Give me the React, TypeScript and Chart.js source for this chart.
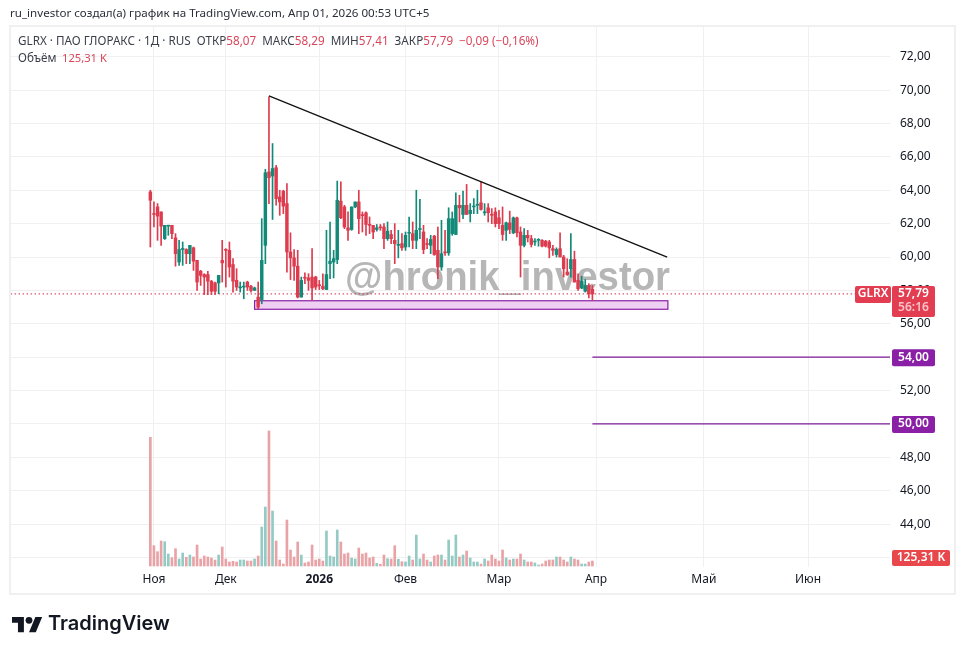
import React, { useEffect, useRef } from "react";
import { Chart, registerables } from "chart.js";

Chart.register(...registerables);

const opens = [63.9,62.6,63.0,62.7,61.1,61.85,61.9,61.15,59.7,60.45,60.45,60.2,60.55,59.8,59.15,58.95,58.95,58.55,58.45,58.45,
59.8,60.45,60.4,59.55,58.6,58.15,58.2,58.5,58.25,58.0,
57.6,57.45,60.7,65.1,64.85,65.35,63.6,63.95,63.2,60.3,
59.95,59.45,57.6,58.77,58.75,58.8,58.8,58.32,58.25,58.05,
59.6,59.7,59.85,63.35,63.0,61.75,61.65,63.0,63.3,62.52,
62.65,61.95,61.9,61.65,61.8,61.8,61.1,61.35,61.0,60.7,
60.8,60.6,61.42,61.4,61.0,61.65,61.5,60.8,60.7,61.25,
60.4,59.4,60.3,60.25,61.4,61.35,63.1,62.55,63.1,62.6,
63.0,63.1,63.25,62.65,62.95,62.55,62.7,62.35,61.9,61.6,
62.05,61.45,62.35,61.5,60.7,61.3,61.1,60.9,61.0,61.0,
60.95,60.9,60.5,60.15,60.5,60.0,59.1,59.3,59.85,58.6,
58.15,57.95,58.3,58.07];
const closes = [63.4,62.55,62.45,61.85,61.9,61.9,61.4,60.2,60.45,60.45,60.2,60.7,59.75,58.5,58.9,58.8,58.55,57.95,57.95,58.9,
59.65,60.4,59.4,58.55,58.2,58.2,58.25,58.2,58.0,58.15,
57.0,59.8,65.05,64.75,65.3,63.5,63.3,63.05,60.3,59.95,
59.45,57.6,58.6,58.73,58.6,58.15,58.2,58.28,58.1,58.95,
59.75,59.9,63.4,62.35,61.8,61.6,63.0,63.3,62.3,62.48,
61.95,61.9,61.5,61.75,61.75,61.1,61.55,61.1,60.8,60.75,
60.55,61.3,61.45,61.0,61.6,61.7,60.45,60.75,61.05,60.15,
59.4,60.2,60.25,62.3,62.3,63.1,62.95,63.1,62.55,62.8,
63.05,63.15,62.85,62.7,62.65,62.5,62.0,62.0,61.35,62.05,
61.65,62.35,61.45,60.7,61.3,61.15,60.75,60.95,61.02,60.65,
60.65,60.55,60.4,60.45,60.0,59.3,58.95,59.85,58.5,58.1,
58.55,58.3,57.8,57.79];
const highs = [64.0,63.3,63.2,62.7,61.9,61.9,61.9,61.4,61.0,60.9,60.5,60.7,60.6,59.8,59.2,59.0,59.15,58.6,58.5,58.9,
61.0,60.5,60.9,59.9,59.3,58.5,58.5,58.55,58.3,58.2,
58.5,62.3,65.25,69.6,66.8,65.5,64.0,64.0,64.4,61.45,
60.45,60.4,58.8,59.05,59.0,60.5,58.85,58.6,59.0,61.6,
62.1,60.4,64.55,64.5,63.1,62.7,63.0,63.3,64.0,62.7,
62.7,62.4,61.9,61.95,61.95,62.0,62.1,61.6,62.0,61.6,
61.4,61.5,62.4,62.1,64.0,63.45,61.9,61.1,61.3,61.3,
61.8,62.2,61.6,62.95,62.7,63.85,63.7,63.95,64.35,63.2,
63.5,64.0,64.5,63.2,63.2,62.9,62.95,62.8,63.0,62.1,
62.75,62.4,62.4,61.8,61.7,61.6,61.3,61.1,61.1,61.05,
61.0,61.0,60.7,60.55,61.45,60.1,59.9,61.4,60.35,59.0,
58.85,58.65,58.4,58.29];
const lows = [60.6,61.8,61.0,60.7,61.05,61.3,61.1,59.45,59.5,59.5,59.6,59.6,59.2,58.0,58.3,57.75,57.75,57.75,57.75,57.8,
58.5,58.2,58.8,57.9,58.0,57.9,57.5,58.0,57.9,58.0,
56.9,57.2,59.6,63.2,62.25,63.1,62.5,62.6,59.1,58.65,
58.6,57.55,57.6,58.4,58.0,57.4,58.05,58.05,58.05,58.05,
58.7,58.75,59.6,62.3,61.7,61.0,61.6,62.95,61.4,61.5,
61.3,61.4,61.1,61.55,61.6,60.5,61.0,60.8,59.6,59.95,
60.4,60.4,60.6,60.5,60.5,61.1,60.2,60.5,60.2,60.1,
58.7,59.2,60.1,60.1,61.3,61.35,62.1,62.3,62.55,62.1,
62.6,62.6,62.8,62.5,62.1,62.0,61.8,61.7,61.0,61.0,
61.4,61.4,61.2,58.8,60.6,60.9,60.6,60.7,60.65,60.6,
60.6,59.95,60.1,60.0,60.0,58.8,58.9,58.8,58.5,58.0,
58.1,57.9,57.55,57.41];
const volumes = [3216,508,358,625,608,300,208,433,175,325,217,275,225,525,175,250,225,200,150,275,
475,175,100,117,100,150,150,125,125,175,
250,975,1475,3375,1375,625,150,50,1150,400,
225,600,275,75,100,525,150,175,125,875,
250,225,900,600,300,325,200,175,450,300,
325,200,225,67,42,275,183,175,508,167,
108,100,250,150,775,175,300,150,100,250,
275,275,150,650,250,775,225,275,375,200,
100,100,50,175,125,275,175,125,400,200,
150,175,175,300,150,100,100,75,25,50,
125,150,150,225,225,150,100,225,175,150,
50,50,100,125];

const monthPositions = [1, 21, 47, 71, 97, 124, 154, 183];
const monthLabels = ["Ноя", "Дек", "2026", "Фев", "Мар", "Апр", "Май", "Июн"];
const priceTicks = [42,44,46,48,50,52,54,56,58,60,62,64,66,68,70,72];

const trendX = [33, 143.8];
const trendY = [69.65, 60.0];
const zoneX = [29, 144];
const zoneY = [56.87, 57.38];
const levels = [54, 50];
const levelStart = 123;
const lastClose = 57.79;

const headerText = "ru_investor создал(а) график на TradingView.com, Апр 01, 2026 00:53 UTC+5";
const legendRuns: [string, boolean][] = [
  ["GLRX · ПАО ГЛОРАКС · 1Д · RUS", false],
  ["ОТКР", false], ["58,07", true],
  ["МАКС", false], ["58,29", true],
  ["МИН", false], ["57,41", true],
  ["ЗАКР", false], ["57,79", true],
  ["−0,09 (−0,16%)", true],
];
const legendGaps = [6, 0, 6, 0, 6, 0, 6, 0, 6, 0];
const watermark = "@hronik_investor";
const symbol = "GLRX";
const priceTag = "57,79";
const countdown = "56:16";
const levelTags = ["54,00", "50,00"];
const volumeTag = "125,31 K";
const volumeLegend = "125,31 K";

const RED = "#dd3b4e";
const GREEN = "#128a78";
const VOL_RED = "#e9a3a6";
const VOL_GREEN = "#93cbc4";
const PURPLE = "#8a20a6";
const FONT = '"Noto Sans", sans-serif';

const fmt = (v: number) => v.toFixed(2).replace(".", ",");

const overlay = {
  id: "overlay",
  beforeDatasetsDraw(chart: any) {
    const { ctx, scales } = chart;
    const x0 = scales.x.getPixelForValue(zoneX[0]);
    const x1 = scales.x.getPixelForValue(zoneX[1]);
    const y0 = scales.y.getPixelForValue(zoneY[1]);
    const y1 = scales.y.getPixelForValue(zoneY[0]);
    ctx.save();
    ctx.fillStyle = "#efd0f3";
    ctx.strokeStyle = PURPLE;
    ctx.lineWidth = 1.2;
    ctx.fillRect(x0, y0, x1 - x0, y1 - y0);
    ctx.strokeRect(x0, y0, x1 - x0, y1 - y0);
    // watermark, under the marks
    ctx.fillStyle = "#b6b6b6";
    ctx.font = 'bold 40px "Liberation Sans", sans-serif';
    ctx.textBaseline = "alphabetic";
    ctx.textAlign = "left";
    ctx.fillText(watermark, 345, 289.5, 325);
    ctx.restore();
  },
  afterDraw(chart: any) {
    const { ctx, scales } = chart;
    ctx.save();
    // chart frame
    ctx.strokeStyle = "#f0f0f0";
    ctx.lineWidth = 2;
    ctx.strokeRect(10, 26, 945, 568);

    ctx.textBaseline = "middle";
    ctx.textAlign = "left";

    // header
    ctx.fillStyle = "#2a2e39";
    ctx.font = `11.6px ${FONT}`;
    ctx.fillText(headerText, 10, 14);

    // legend
    let x = 18;
    ctx.font = `11.7px ${FONT}`;
    legendRuns.forEach(([t, red], i) => {
      ctx.fillStyle = red ? "#d9455a" : "#3a3e49";
      ctx.fillText(t, x, 42);
      x += ctx.measureText(t).width + legendGaps[i];
    });
    ctx.fillStyle = "#3a3e49";
    ctx.fillText("Объём", 18, 59);
    ctx.fillStyle = "#d9455a";
    ctx.font = `11.2px ${FONT}`;
    ctx.fillText(volumeLegend, 62, 59);

    // right tags
    const tag = (l: number, t: number, w: number, h: number, c: string) => {
      ctx.fillStyle = c;
      ctx.beginPath();
      ctx.roundRect(l, t, w, h, 2);
      ctx.fill();
    };
    ctx.font = `600 12px ${FONT}`;
    ctx.textAlign = "center";
    const yClose = scales.y.getPixelForValue(lastClose);
    tag(855, yClose - 8, 36, 17, "#e23d50");
    ctx.fillStyle = "#fff";
    ctx.fillText(symbol, 873, yClose);
    tag(892, yClose - 8, 43, 31, "#e23d50");
    ctx.fillStyle = "#fff";
    ctx.fillText(priceTag, 913.5, yClose);
    ctx.fillStyle = "#f8c3c9";
    ctx.fillText(countdown, 913.5, yClose + 13.5);
    levels.forEach((lv, i) => {
      const yl = scales.y.getPixelForValue(lv);
      tag(892, yl - 8, 43, 17, PURPLE);
      ctx.fillStyle = "#fff";
      ctx.fillText(levelTags[i], 913.5, yl);
    });
    tag(892, 550, 58, 16, "#e8484c");
    ctx.fillStyle = "#fff";
    ctx.fillText(volumeTag, 921, 558);

    // logo
    ctx.fillStyle = "#131722";
    ctx.translate(12, 613.5);
    ctx.scale(0.85, 0.85);
    ctx.fill(new Path2D("M14 22H7V11H0V4h14v18zM28 22h-8l7.5-18h8L28 22z"));
    ctx.beginPath();
    ctx.arc(20, 8, 4, 0, Math.PI * 2);
    ctx.fill();
    ctx.setTransform(1, 0, 0, 1, 0, 0);
    ctx.textAlign = "left";
    ctx.font = '600 20px Inter, sans-serif';
    ctx.fillText("TradingView", 48, 624);
    ctx.restore();
  },
};

export default function App() {
  const ref = useRef<HTMLCanvasElement | null>(null);
  useEffect(() => {
    if (!ref.current) return;
    const idx = opens.map((_, i) => i);
    const up = (i: number) => closes[i] >= opens[i];
    const chart = new Chart(ref.current, {
      type: "bar",
      data: {
        datasets: [
          {
            type: "line", data: [{ x: trendX[0], y: trendY[0] }, { x: trendX[1], y: trendY[1] }],
            borderColor: "#111", borderWidth: 1.3, pointRadius: 0, order: 0, yAxisID: "y",
          },
          ...levels.map((lv) => ({
            type: "line", data: [{ x: levelStart, y: lv }, { x: 206, y: lv }],
            borderColor: "#7d1a96", borderWidth: 1.2, pointRadius: 0, order: 1, yAxisID: "y",
          })),
          {
            type: "line", data: [{ x: -40, y: lastClose }, { x: 206, y: lastClose }],
            borderColor: "#c9304a", borderWidth: 1, borderDash: [1.5, 2.5], pointRadius: 0, order: 5, yAxisID: "y",
          },
          {
            type: "bar", data: idx.map((i) => ({ x: i, y: [opens[i], closes[i]] })),
            backgroundColor: idx.map((i) => (up(i) ? GREEN : RED)),
            barThickness: 2.8, minBarLength: 1, grouped: false, order: 2, yAxisID: "y",
          },
          {
            type: "bar", data: idx.map((i) => ({ x: i, y: [lows[i], highs[i]] })),
            backgroundColor: idx.map((i) => (up(i) ? GREEN : RED)),
            barThickness: 1, grouped: false, order: 3, yAxisID: "y",
          },
          {
            type: "bar", data: idx.map((i) => ({ x: i, y: volumes[i] })),
            backgroundColor: idx.map((i) => (up(i) ? VOL_GREEN : VOL_RED)),
            barThickness: 2, grouped: false, order: 4, yAxisID: "y2",
          },
        ] as any,
      },
      options: {
        responsive: false,
        animation: false,
        layout: { padding: { left: 10, top: 26, right: 10, bottom: 60 } },
        plugins: { legend: { display: false }, tooltip: { enabled: false }, title: { display: false } },
        scales: {
          x: {
            type: "linear", min: -39.05, max: 205.8, offset: false,
            grid: { color: "#f0f0f0", drawTicks: false, drawOnChartArea: true, offset: false },
            border: { display: false },
            afterFit: (a: any) => { a.height = 27; },
            afterBuildTicks: (a: any) => { a.ticks = monthPositions.map((value) => ({ value })); },
            ticks: {
              autoSkip: false, maxRotation: 0, padding: 5, color: "#131722",
              font: (c: any) => ({
                family: FONT, size: 12,
                weight: monthPositions[c.index] === 47 ? "bold" : "normal",
              }),
              callback: (v: any) => monthLabels[monthPositions.indexOf(v)],
            },
          },
          y: {
            type: "linear", position: "right", min: 41.43, max: 73.84,
            grid: { color: "#f0f0f0", drawTicks: false },
            border: { display: false },
            afterFit: (a: any) => { a.width = 65; },
            afterBuildTicks: (a: any) => { a.ticks = priceTicks.map((value) => ({ value })); },
            ticks: {
              padding: 10, color: "#131722", font: { family: FONT, size: 12 },
              autoSkip: false,
              callback: (v: any) => fmt(Number(v)),
            },
          },
          y2: { type: "linear", display: false, min: -25, max: 13500, grid: { display: false } },
        },
      } as any,
      plugins: [overlay],
    });
    return () => chart.destroy();
  }, []);
  return (
    <canvas
      ref={ref}
      width={965}
      height={654}
      style={{ position: "absolute", left: 0, top: 0, width: 965, height: 654, background: "#fff" }}
    />
  );
}
